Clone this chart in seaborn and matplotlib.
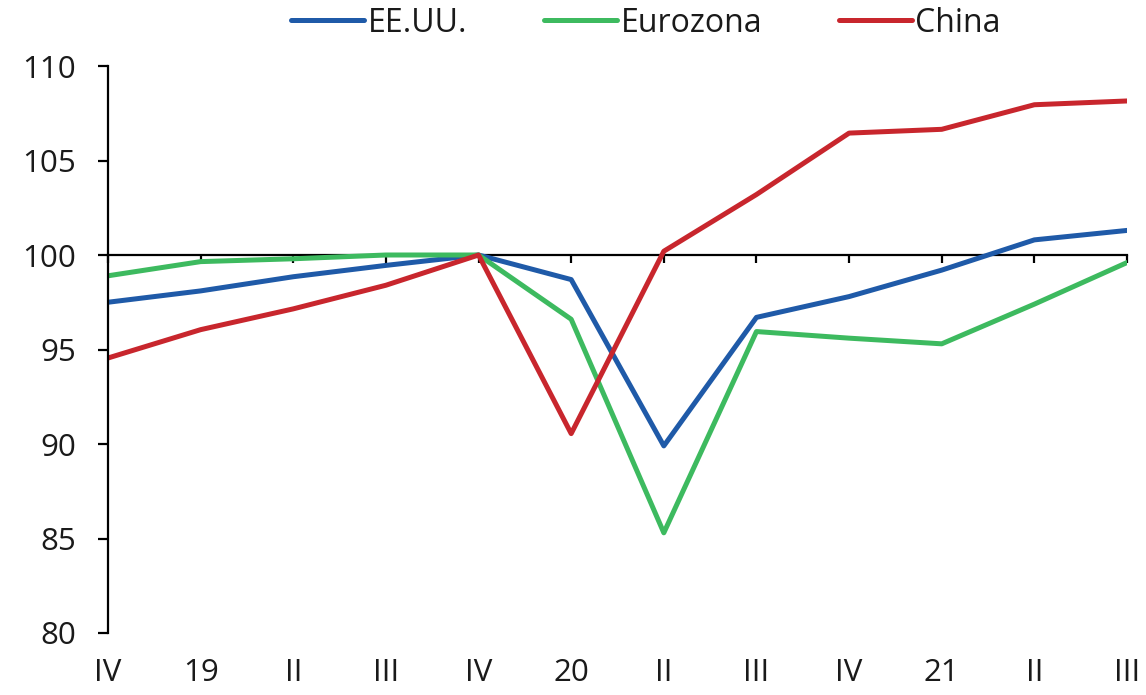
import matplotlib
matplotlib.use("Agg")
import matplotlib.pyplot as plt
import seaborn as sns
import pandas as pd
import numpy as np

# Quarterly labels (IV 2018 .. III 2021)
quarters = ["IV", "19", "II", "III", "IV", "20", "II", "III", "IV", "21", "II", "III"]

# Index, IV 2019 = 100
eeuu = [97.5, 98.1, 98.85, 99.45, 100.0, 98.7, 89.9, 96.7, 97.8, 99.2, 100.8, 101.3]
eurozona = [98.9, 99.65, 99.8, 100.0, 100.0, 96.6, 85.3, 95.95, 95.6, 95.3, 97.4, 99.6]
china = [94.55, 96.05, 97.15, 98.4, 100.0, 90.55, 100.2, 103.2, 106.45, 106.65, 107.95, 108.15]

series_names = ["EE.UU.", "Eurozona", "China"]
colors = ["#1f5aa8", "#3dba5f", "#c8262d"]

x = np.arange(len(quarters))
df = pd.concat([
    pd.DataFrame({"t": x, "valor": vals, "serie": name})
    for name, vals in zip(series_names, [eeuu, eurozona, china])
])

sns.set_style("white")
plt.rcParams["font.family"] = ["Open Sans", "DejaVu Sans"]

fig = plt.figure(figsize=(11.46, 6.95), dpi=100)
ax = fig.add_axes([108 / 1146, 62 / 695, (1127 - 108) / 1146, (633 - 66) / 695])

sns.lineplot(data=df, x="t", y="valor", hue="serie", hue_order=series_names,
             palette=colors, linewidth=3.6, sort=False, ax=ax, legend=False)

ax.set_xlim(0, 11)
ax.set_ylim(80, 110)
ax.set_yticks([80, 85, 90, 95, 100, 105, 110])
ax.set_xlabel("")
ax.set_ylabel("")

# Spines: left axis and a baseline at 100
for side in ["top", "right"]:
    ax.spines[side].set_visible(False)
ax.spines["left"].set_linewidth(1.6)
ax.spines["left"].set_color("black")
ax.spines["bottom"].set_position(("data", 100))
ax.spines["bottom"].set_linewidth(1.6)
ax.spines["bottom"].set_color("black")
ax.spines["bottom"].set_zorder(1)

ax.set_xticks(x)
ax.tick_params(axis="x", which="both", bottom=True, direction="out", length=6,
               width=1.6, color="black", labelbottom=False)
ax.tick_params(axis="y", left=True, direction="out", length=7, width=1.6,
               color="black", labelsize=22.5, pad=16, labelcolor="#1a1a1a")

# Quarter labels along the bottom edge
sec = ax.secondary_xaxis(location=0)
sec.set_xticks(x)
sec.set_xticklabels(quarters)
sec.spines["bottom"].set_visible(False)
sec.tick_params(axis="x", length=0, labelsize=22.5, pad=18, labelcolor="#1a1a1a")

# Legend across the top
handles = [plt.Line2D([], [], color=c, linewidth=3.6) for c in colors]
fig.legend(handles, series_names, loc="center", bbox_to_anchor=(646 / 1146, 1 - 23 / 695),
           ncol=3, frameon=False, fontsize=23, handlelength=2.3, handletextpad=0.1,
           columnspacing=2.4, labelcolor="#1a1a1a")

fig.savefig("out.png", dpi=100, facecolor="white")
